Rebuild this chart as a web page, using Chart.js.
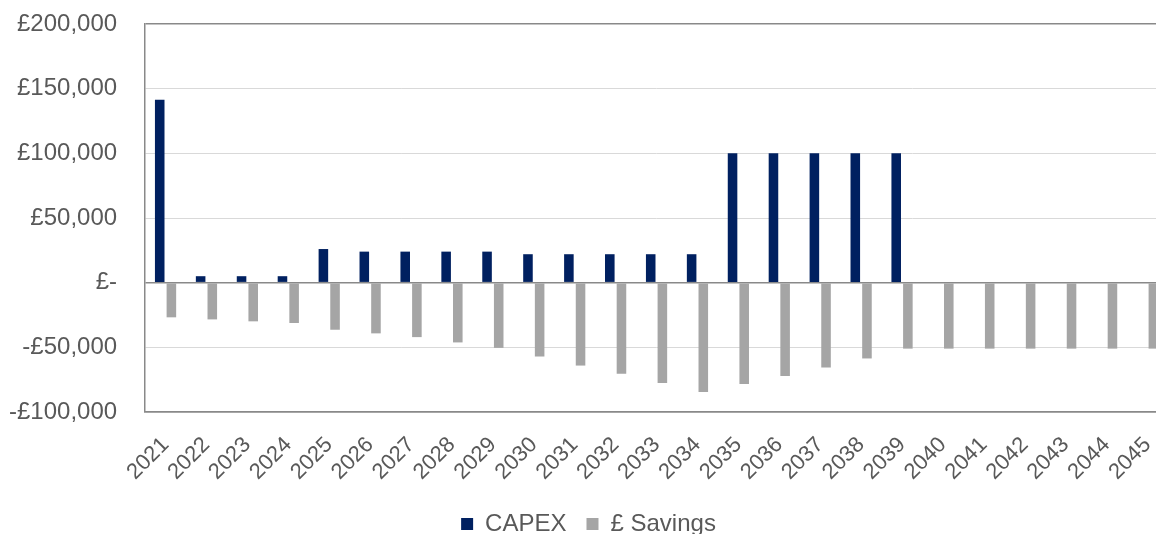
<!DOCTYPE html>
<html>
<head>
<meta charset="utf-8">
<script src="https://cdn.jsdelivr.net/npm/chart.js@4.4.1/dist/chart.umd.min.js"></script>
<style>
  html, body { margin: 0; padding: 0; background: #ffffff; overflow: hidden; }
  #wrap { width: 1196px; height: 546px; position: relative; }
</style>
</head>
<body>
<div id="wrap"><canvas id="chart"></canvas></div>
<script>
// Yearly capital expenditure and savings (GBP)
const years = ['2021','2022','2023','2024','2025','2026','2027','2028','2029','2030',
  '2031','2032','2033','2034','2035','2036','2037','2038','2039','2040',
  '2041','2042','2043','2044','2045'];

const capex = [141500, 5000, 5000, 5000, 26000, 24000, 24000, 24000, 24000, 22000,
  22000, 22000, 22000, 22000, 100000, 100000, 100000, 100000, 100000, 0,
  0, 0, 0, 0, 0];

const savings = [-26800, -28400, -29900, -31200, -36400, -39200, -42100, -46200, -50400, -57100,
  -64100, -70500, -77500, -84500, -78300, -72100, -65600, -58600, -51000, -51000,
  -51000, -51000, -51000, -51000, -51000];

const yTicks = [-100000, -50000, 0, 50000, 100000, 150000, 200000];

const FONT = '"Liberation Sans", Arial, sans-serif';
const TEXT = '#595959';
const AXIS = '#898989';
const GRID = '#D9D9D9';
const PLOT_BOTTOM = 412;

function formatGBP(v) {
  if (v === 0) return '£-';
  const s = '£' + Math.abs(v).toLocaleString('en-GB');
  return v < 0 ? '-' + s : s;
}

const edgeTicks = [yTicks[0], 0, yTicks[yTicks.length - 1]];

new Chart(document.getElementById('chart'), {
  type: 'bar',
  data: {
    labels: years,
    datasets: [
      { label: 'CAPEX', data: capex, backgroundColor: '#002060',
        categoryPercentage: 0.57, barPercentage: 0.82 },
      { label: '£ Savings', data: savings, backgroundColor: '#A5A5A5',
        categoryPercentage: 0.57, barPercentage: 0.82 }
    ]
  },
  options: {
    responsive: true,
    maintainAspectRatio: false,
    animation: false,
    layout: { padding: { left: 9, right: 28, top: 24, bottom: 0 } },
    plugins: {
      tooltip: { enabled: false },
      legend: {
        position: 'bottom',
        labels: {
          font: { family: FONT, size: 24 },
          color: TEXT,
          boxWidth: 12,
          boxHeight: 12,
          padding: 20
        }
      }
    },
    scales: {
      x: {
        grid: { display: false },
        border: { display: true, color: AXIS, width: 1.5 },
        afterFit: (axis) => {
          axis.paddingLeft = 0;
          axis.paddingRight = 0;
          const legendH = axis.chart.legend ? axis.chart.legend.height : 0;
          axis.height = axis.chart.height - legendH - PLOT_BOTTOM;
        },
        ticks: {
          font: { family: FONT, size: 22 },
          color: TEXT,
          maxRotation: 45,
          minRotation: 45,
          autoSkip: false,
          padding: 12
        }
      },
      y: {
        min: yTicks[0],
        max: yTicks[yTicks.length - 1],
        afterBuildTicks: (axis) => { axis.ticks = yTicks.map(v => ({ value: v })); },
        afterFit: (axis) => {
          axis.paddingTop = 0;
          axis.paddingBottom = 0;
          axis.width -= axis.options.ticks.padding;
        },
        grid: {
          drawTicks: false,
          color: (c) => edgeTicks.includes(c.tick && c.tick.value) ? AXIS : GRID,
          lineWidth: (c) => edgeTicks.includes(c.tick && c.tick.value) ? 1.5 : 1
        },
        border: { display: true, color: AXIS, width: 1.5 },
        ticks: {
          font: { family: FONT, size: 24 },
          color: TEXT,
          padding: 28,
          callback: (v) => formatGBP(v)
        }
      }
    }
  }
});
</script>
</body>
</html>
